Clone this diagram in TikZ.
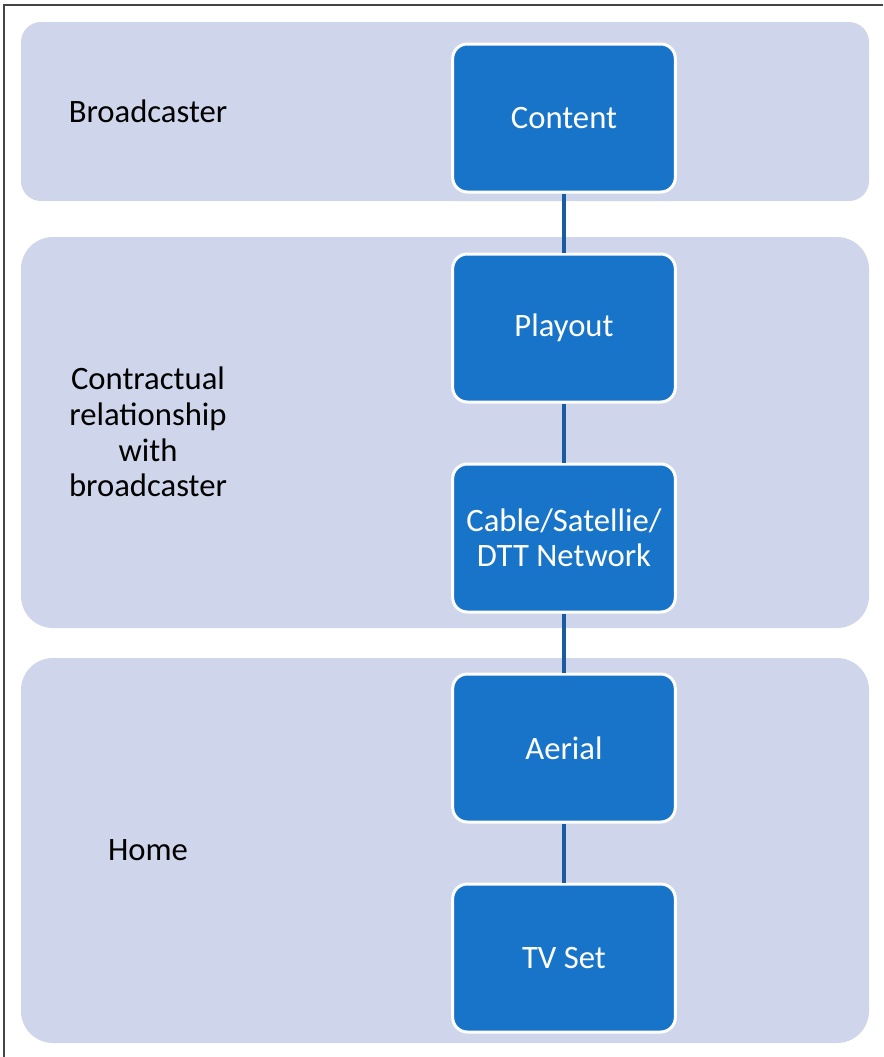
\documentclass[tikz,border=0pt]{standalone}
\usepackage{fontspec}
\setmainfont{Carlito}
\definecolor{bandfill}{HTML}{CFD5EA}
\definecolor{stagefill}{HTML}{1874C8}
\definecolor{linkcol}{HTML}{1A5C9F}
\definecolor{framecol}{HTML}{444444}
\tikzset{
  band/.style={fill=bandfill},
  stage/.style={draw=white, line width=2.25pt, fill=stagefill, rounded corners=11pt,
    minimum width=167pt, minimum height=111pt, text=white, align=center,
    font=\fontsize{24.5}{26.5}\selectfont, inner sep=0pt},
  tier/.style={text=black, align=center, font=\fontsize{24.5}{26.8}\selectfont, inner sep=0pt},
  link/.style={draw=linkcol, line width=2.6pt}
}
\begin{document}
\begin{tikzpicture}[x=0.75pt,y=-0.75pt]
\useasboundingbox (0,0) rectangle (883,1057);
% outer frame (left and top edges)
\draw[framecol, line width=1.1pt] (4,1057) -- (4,5) -- (883,5);
% tier bands
\path[band, rounded corners=15pt] (21,22) rectangle (869,201);
\path[band, rounded corners=24pt] (21,237) rectangle (869,628);
\path[band, rounded corners=24pt] (21,658) rectangle (869,1043);
% tier labels
\node[tier] (broadcaster) at (148,111) {Broadcaster};
\node[tier] (contract) at (148,432) {Contractual\\relationship\\with\\broadcaster};
\node[tier] (home) at (148,850) {Home};
% centres of the stages, one above the other
\coordinate (c1) at (564,118);
\coordinate (c2) at (564,328);
\coordinate (c3) at (564,538);
\coordinate (c4) at (564,748);
\coordinate (c5) at (564,958);
% chain of stages
\node[stage] (content) at (c1) {Content};
\node[stage] (playout) at (c2) {Playout};
\node[stage] (network) at (c3) {Cable/Satellie/\\DTT Network};
\node[stage] (aerial) at (c4) {Aerial};
\node[stage] (tvset) at (c5) {TV Set};
% connectors between consecutive stages
\draw[link] (content) -- (playout);
\draw[link] (playout) -- (network);
\draw[link] (network) -- (aerial);
\draw[link] (aerial) -- (tvset);
\end{tikzpicture}
\end{document}
